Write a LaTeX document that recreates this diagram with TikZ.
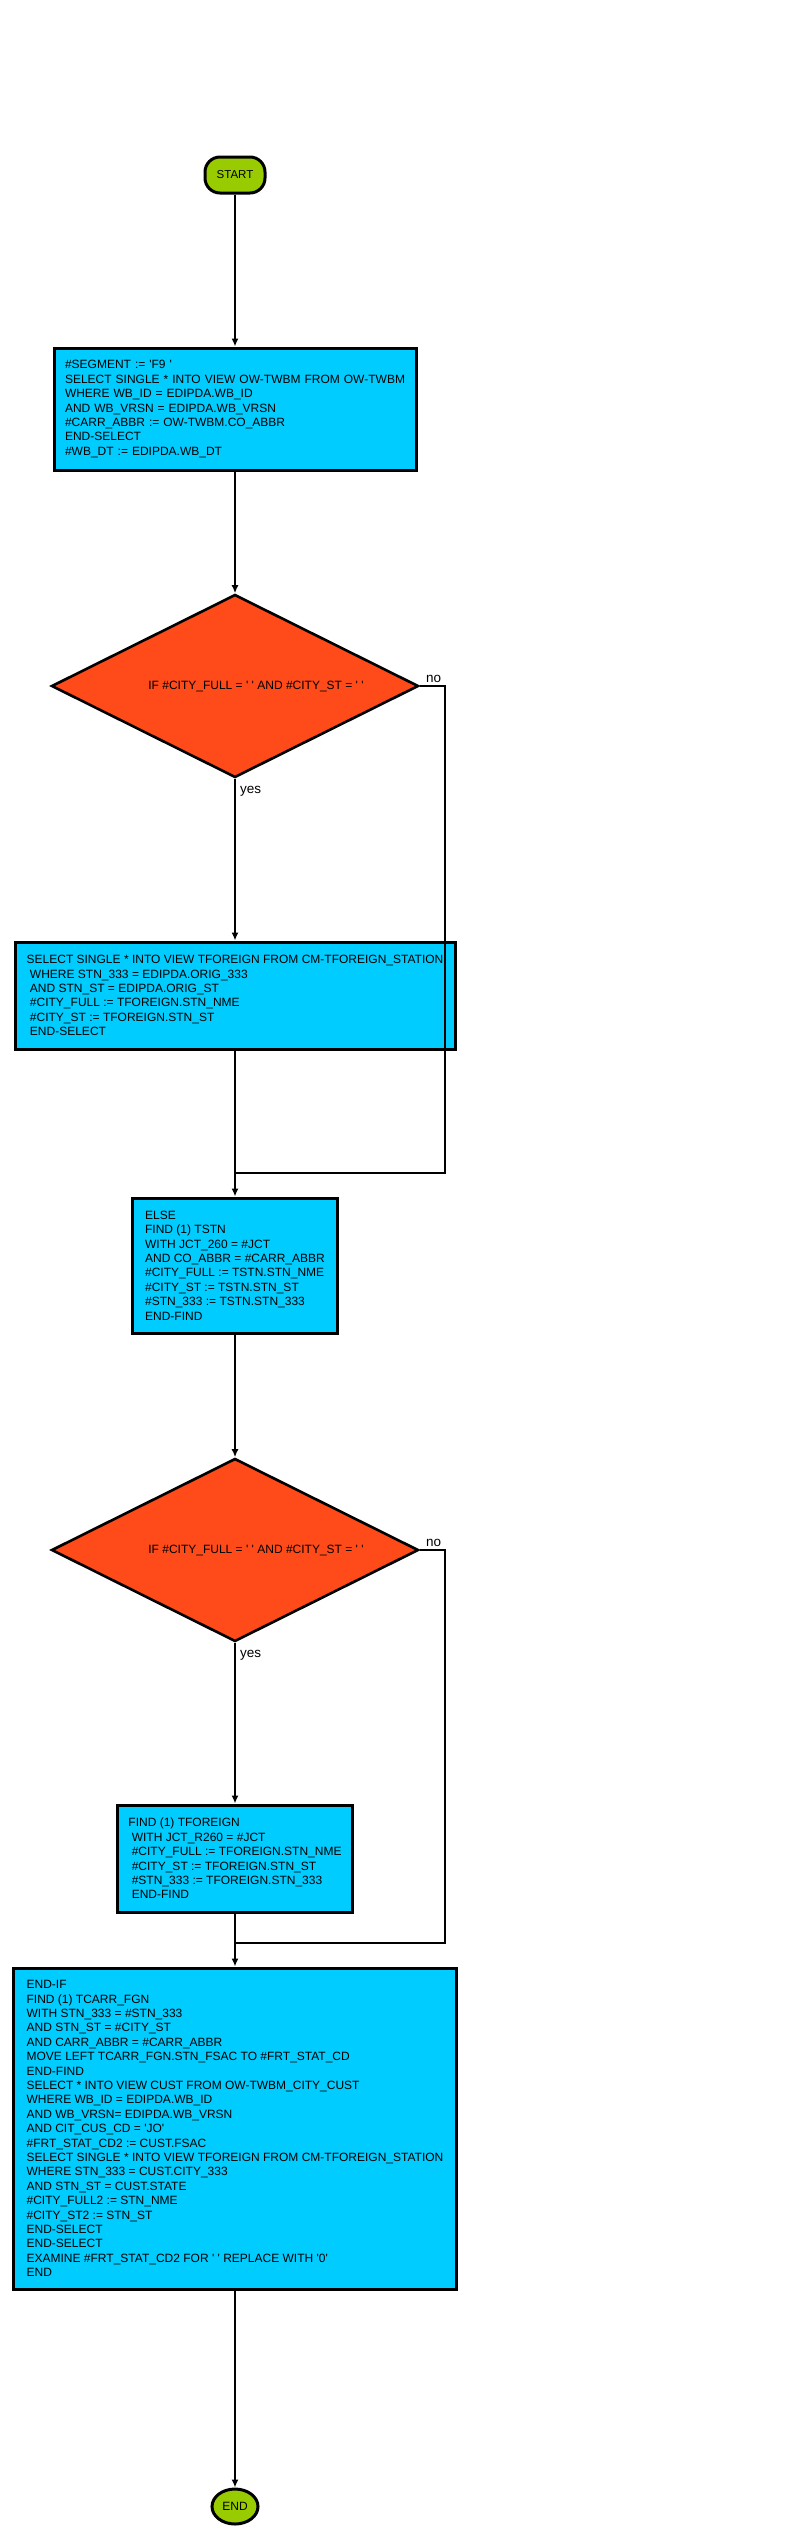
\documentclass[tikz,border=0pt]{standalone}
\usepackage{fontspec}
\setmainfont{Liberation Sans}[Ligatures=TeXOff]
\usetikzlibrary{shapes.geometric,arrows.meta}
\definecolor{stepblue}{RGB}{0,204,255}
\definecolor{decred}{RGB}{255,74,25}
\definecolor{termgreen}{RGB}{153,204,0}
\newcommand{\codeind}{\hspace*{.278em}}

\begin{document}
\begin{tikzpicture}[x=1pt, y=-1pt,
		every node/.style={font=\fontsize{12}{14.4}\selectfont},
		stepbox/.style={draw=black, line width=3pt, fill=stepblue, align=left, inner sep=0pt},
		decision/.style={diamond, aspect=2, draw=black, line width=2.6pt, fill=decred, inner sep=0pt, minimum width=367pt, minimum height=183pt},
		terminal/.style={draw=black, line width=3pt, fill=termgreen, inner sep=0pt},
		flow/.style={line width=2.2pt, -{Latex[length=8pt,width=7pt]}},
		link/.style={line width=2.2pt},
		lbl/.style={font=\fontsize{13.5}{15}\selectfont, inner sep=0pt}]
			\path[use as bounding box, fill=white] (0,0) rectangle (800,2535);

			\node[terminal, rounded corners=15pt, minimum width=60pt, minimum height=36pt, font=\fontsize{11.5}{13}\selectfont] (start) at (235,175) {START};
			\node[stepbox, text width=340pt, inner xsep=11pt, minimum height=122pt] (seg) at (235,409) {\#SEGMENT := 'F9 '\\SELECT SINGLE * INTO VIEW OW-TWBM FROM OW-TWBM\\WHERE WB\_ID = EDIPDA.WB\_ID\\AND WB\_VRSN = EDIPDA.WB\_VRSN\\\#CARR\_ABBR := OW-TWBM.CO\_ABBR\\END-SELECT\\\#WB\_DT := EDIPDA.WB\_DT};
			\node[decision] (ifa) at (235,686) {\hspace*{42pt}IF \#CITY\_FULL = ' ' AND \#CITY\_ST = ' '};
			\node[stepbox, minimum width=440pt, minimum height=107pt] (selfgn) at (235,995.5) {SELECT SINGLE * INTO VIEW TFOREIGN FROM CM-TFOREIGN\_STATION\\\codeind WHERE STN\_333 = EDIPDA.ORIG\_333\\\codeind AND STN\_ST = EDIPDA.ORIG\_ST\\\codeind\#CITY\_FULL := TFOREIGN.STN\_NME\\\codeind\#CITY\_ST := TFOREIGN.STN\_ST\\\codeind END-SELECT};
			\node[stepbox, minimum width=205pt, minimum height=135pt] (findstn) at (235,1265.5) {ELSE\\FIND (1) TSTN\\WITH JCT\_260 = \#JCT\\AND CO\_ABBR = \#CARR\_ABBR\\\#CITY\_FULL := TSTN.STN\_NME\\\#CITY\_ST := TSTN.STN\_ST\\\#STN\_333 := TSTN.STN\_333\\END-FIND};
			\node[decision] (ifb) at (235,1550) {\hspace*{42pt}IF \#CITY\_FULL = ' ' AND \#CITY\_ST = ' '};
			\node[stepbox, minimum width=235pt, minimum height=107pt] (findfgn) at (235,1858.5) {FIND (1) TFOREIGN\\\codeind WITH JCT\_R260 = \#JCT\\\codeind\#CITY\_FULL := TFOREIGN.STN\_NME\\\codeind\#CITY\_ST := TFOREIGN.STN\_ST\\\codeind\#STN\_333 := TFOREIGN.STN\_333\\\codeind END-FIND};
			\node[stepbox, minimum width=443pt, minimum height=321pt] (carr) at (235,2128.5) {END-IF\\FIND (1) TCARR\_FGN\\WITH STN\_333 = \#STN\_333\\AND STN\_ST = \#CITY\_ST\\AND CARR\_ABBR = \#CARR\_ABBR\\MOVE LEFT TCARR\_FGN.STN\_FSAC TO \#FRT\_STAT\_CD\\END-FIND\\SELECT * INTO VIEW CUST FROM OW-TWBM\_CITY\_CUST\\WHERE WB\_ID = EDIPDA.WB\_ID\\AND WB\_VRSN= EDIPDA.WB\_VRSN\\AND CIT\_CUS\_CD = 'JO'\\\#FRT\_STAT\_CD2 := CUST.FSAC\\SELECT SINGLE * INTO VIEW TFOREIGN FROM CM-TFOREIGN\_STATION\\WHERE STN\_333 = CUST.CITY\_333\\AND STN\_ST = CUST.STATE\\\#CITY\_FULL2 := STN\_NME\\\#CITY\_ST2 := STN\_ST\\END-SELECT\\END-SELECT\\EXAMINE \#FRT\_STAT\_CD2 FOR ' ' REPLACE WITH '0'\\END};
			\node[terminal, ellipse, minimum width=46pt, minimum height=35pt] (stop) at (235,2506.5) {END};

			\coordinate (joina) at (235,1173);
			\coordinate (joinb) at (235,1943);
			\draw[flow] (start) -- (seg);
			\draw[flow] (seg) -- (ifa);
			\draw[flow] (ifa) -- (selfgn);
			\draw[link] (ifa.east) -- ++(25,0) |- (joina);
			\draw[flow] (selfgn) -- (findstn);
			\draw[flow] (findstn) -- (ifb);
			\draw[flow] (ifb) -- (findfgn);
			\draw[link] (ifb.east) -- ++(25,0) |- (joinb);
			\draw[flow] (findfgn) -- (carr);
			\draw[flow] (carr) -- (stop);

			\node[lbl, anchor=base west] (noa) at ([shift={(6,-4)}]ifa.east) {no};
			\node[lbl, anchor=base west] (yesa) at ([shift={(5,15)}]ifa.south) {yes};
			\node[lbl, anchor=base west] (nob) at ([shift={(6,-4)}]ifb.east) {no};
			\node[lbl, anchor=base west] (yesb) at ([shift={(5,15)}]ifb.south) {yes};
		\end{tikzpicture}
\end{document}
